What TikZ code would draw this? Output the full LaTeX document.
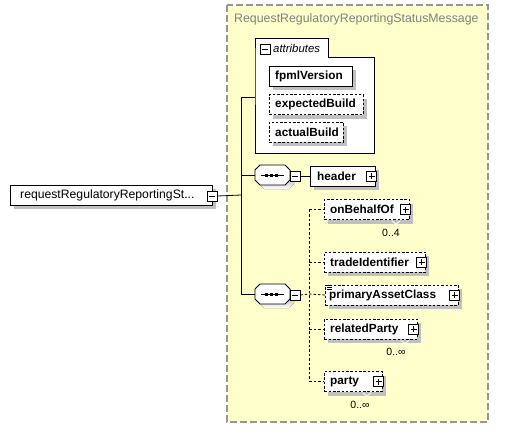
\documentclass[tikz,border=0pt]{standalone}
\usepackage{fontspec}
\setmainfont{Liberation Sans}
\usetikzlibrary{shadows}
\definecolor{bgyellow}{RGB}{255,255,204}
\definecolor{framegray}{RGB}{150,150,150}
\definecolor{titlegray}{RGB}{128,128,128}
\definecolor{shade}{RGB}{192,192,192}
\begin{document}
\begin{tikzpicture}[x=1pt,y=-1pt,
  elem/.style={draw=black, fill=white, minimum height=20pt, inner sep=0pt, anchor=west, line width=0.8pt,
    drop shadow={shadow xshift=4pt, shadow yshift=-4pt, fill=shade, opacity=1}},
  optelem/.style={elem, dash pattern=on 2.5pt off 1.8pt},
  lbl/.style={anchor=west, inner sep=0pt, font=\fontsize{11.8}{13}\selectfont\bfseries},
  occ/.style={inner sep=0pt, font=\fontsize{10.5}{12}\selectfont},
  pm/.style={draw=black, fill=white, line width=0.9pt, minimum width=10pt, minimum height=10pt, inner sep=0pt},
  conn/.style={line width=0.8pt},
  dconn/.style={line width=0.8pt, dash pattern=on 2.5pt off 2pt}
]
\useasboundingbox (0,0) rectangle (531,429);
% outer complex type box
\draw[fill=bgyellow, draw=framegray, line width=1.3pt, dash pattern=on 7pt off 3pt] (227,5) rectangle (488,422);
\node[anchor=west, inner sep=0pt, text=titlegray, font=\fontsize{12.35}{14}\selectfont] (title) at (234,19) {RequestRegulatoryReportingStatusMessage};

% attributes box
\draw[fill=white, line width=0.8pt] (255,57) -- (255,38) -- (328,38) -- (328,57) -- (374,57) -- (374,153) -- (255,153) -- cycle;
\node[pm] (attmin) at (265,49) {};
\draw[line width=0.9pt] (262,49) -- (268,49);
\node[anchor=west, inner sep=0pt, font=\fontsize{11.4}{13}\selectfont\itshape] (attlbl) at (273,48) {attributes};
\coordinate (attW) at (255,97);

\node[elem, minimum width=83pt] (fpml) at (269,76) {};
\node[lbl] at ([xshift=6pt]fpml.west) {fpmlVersion};
\node[optelem, minimum width=94pt] (exp) at (269,104.5) {};
\node[lbl] at ([xshift=6pt]exp.west) {expectedBuild};
\node[optelem, minimum width=74pt] (act) at (269,132) {};
\node[lbl] at ([xshift=6pt]act.west) {actualBuild};

% root element
\node[elem, minimum width=202pt] (root) at (10,195) {};
\node[anchor=west, inner sep=0pt, font=\fontsize{12.2}{14}\selectfont] at (20,195) {requestRegulatoryReportingSt...};
\node[pm] (rootmin) at (212,196) {};
\draw[line width=0.9pt] (209,196) -- (215,196);

% sequences
\foreach \nm/\cy in {seqa/175, seqb/294} {
  \fill[shade] (259,\cy-1) -- (264,\cy-6) -- (289,\cy-6) -- (294,\cy-1) -- (294,\cy+9) -- (289,\cy+14) -- (264,\cy+14) -- (259,\cy+9) -- cycle;
  \draw[fill=white, line width=0.8pt] (255,\cy-5) -- (260,\cy-10) -- (285,\cy-10) -- (290,\cy-5) -- (290,\cy+5) -- (285,\cy+10) -- (260,\cy+10) -- (255,\cy+5) -- cycle;
  \draw[line width=0.9pt] (261,\cy) -- (284,\cy);
  \foreach \sx in {265,270,275} \fill (\sx,\cy-1.5) rectangle (\sx+3,\cy+1.5);
  \node[inner sep=0pt, minimum width=35pt, minimum height=20pt] (\nm) at (272.5,\cy) {};
  \node[pm] (\nm min) at (295,\cy+1) {};
  \draw[line width=0.9pt] (292,\cy+1) -- (298,\cy+1);
}

% header
\node[elem, minimum width=65pt] (header) at (310,176) {};
\node[lbl] at ([xshift=7pt]header.west) {header};

% children of second sequence
\node[optelem, minimum width=85pt] (obo) at (324,209.5) {};
\node[lbl] at ([xshift=6pt]obo.west) {onBehalfOf};
\node[optelem, minimum width=101pt] (tid) at (324,262) {};
\node[lbl] at ([xshift=6pt]tid.west) {tradeIdentifier};
\node[optelem, minimum width=133pt] (pac) at (325,295) {};
\node[lbl] at ([xshift=4pt]pac.west) {primaryAssetClass};
\foreach \ly in {285.5,287.5,289.5} \draw[line width=0.6pt] (327,\ly) -- (332,\ly);
\node[optelem, minimum width=93pt] (rel) at (324,329) {};
\node[lbl] at ([xshift=6pt]rel.west) {relatedParty};
\node[optelem, minimum width=58pt] (party) at (324,381.5) {};
\node[lbl] at ([xshift=6pt]party.west) {party};

% occurrence notches and labels
\foreach \nx/\ny in {396/224, 405/343.5, 367/396} {
  \draw[white, line width=0.8pt] (\nx-4,\ny-3) -- (\nx,\ny) -- (\nx+4,\ny-3);
}
\node[occ] (occa) at (391,233) {0..4};
\node[occ] (occb) at (396,352) {0..∞};
\node[occ] (occc) at (360,405) {0..∞};

% plus boxes
\foreach \el in {header, obo, tid, pac, rel, party} {
  \node[pm] (\el plus) at ([xshift=-4pt]\el.east) {};
  \draw[line width=0.9pt] ([xshift=-3pt]\el plus.center) -- ([xshift=3pt]\el plus.center);
  \draw[line width=0.9pt] ([yshift=-3pt]\el plus.center) -- ([yshift=3pt]\el plus.center);
}

% connectors
\coordinate (trunk) at (241,195);
\draw[conn] (rootmin.east) -- (trunk);
\draw[conn] (attW) -- (241,97) -- (241,294) -- (seqb.west);
\draw[conn] (241,175) -- (seqa.west);
\draw[conn] (seqamin.east) -- (header.west);
\coordinate (branch) at (309,294);
\draw[dconn] (seqbmin.east) -- (branch);
\draw[dconn] (309,209.5) -- (309,381.5);
\draw[dconn] (309,209.5) -- (obo.west);
\draw[dconn] (309,262) -- (tid.west);
\draw[dconn] (branch) -- (pac.west);
\draw[dconn] (309,329) -- (rel.west);
\draw[dconn] (309,381.5) -- (party.west);
\end{tikzpicture}
\end{document}
